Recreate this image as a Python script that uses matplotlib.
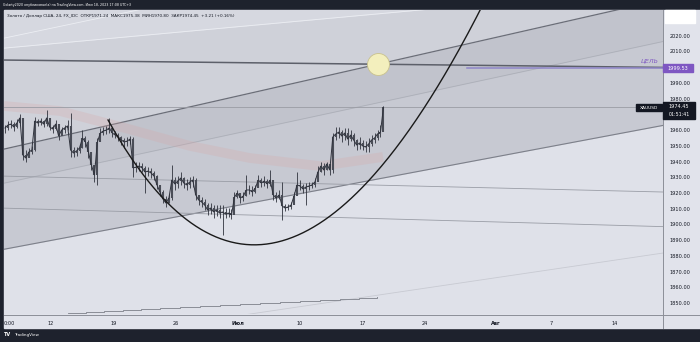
import numpy as np
import matplotlib.pyplot as plt
from matplotlib.patches import Rectangle
from matplotlib.lines import Line2D

W, H = 700, 342

# ось x в днях (12 = 12 июня), ось y - цена
x_ticks = [7.3, 12, 19.05, 25.98, 32.92, 39.85, 46.9, 53.8, 61.8, 68.0, 75.0]
x_labels = ['0:00', '12', '19', '26', 'Июл', '10', '17', '24', 'Авг', '7', '14']
y_ticks = [1850, 1860, 1870, 1880, 1890, 1900, 1910, 1920, 1930, 1940, 1950,
           1960, 1980, 1990, 2010, 2020]

# свечи XAUUSD (по 8 часов), начало
bar_start = 6.855
close = [1961.3, 1963.2, 1963.8, 1961.9, 1964.5, 1967.7, 1944.1, 1942.2, 1946.0, 1947.3,
         1965.7, 1964.5, 1965.7, 1963.8, 1967.7, 1961.9, 1960.7, 1963.8, 1956.2, 1960.0,
         1961.3, 1962.6, 1947.3, 1945.4, 1946.7, 1948.6, 1954.9, 1952.4, 1946.0, 1937.8,
         1931.4, 1952.4, 1958.1, 1959.4, 1960.0, 1961.3, 1958.1, 1956.8, 1955.6, 1953.7,
         1952.4, 1953.0, 1954.3, 1935.9, 1936.5, 1937.1, 1935.9, 1933.3, 1933.9, 1932.7,
         1930.8, 1925.1, 1920.6, 1916.1, 1913.6, 1916.8, 1928.2, 1925.7, 1927.6, 1929.5,
         1926.3, 1925.1, 1927.0, 1928.2, 1918.7, 1915.5, 1914.2, 1912.3, 1909.2, 1910.4,
         1907.9, 1909.2, 1907.2, 1907.9, 1906.6, 1907.2, 1906.0, 1917.4, 1920.0, 1916.8,
         1918.1, 1921.9, 1921.9, 1920.6, 1923.1, 1928.2, 1926.3, 1927.6, 1925.7, 1928.2,
         1918.7, 1916.8, 1918.7, 1911.7, 1910.4, 1911.1, 1912.3, 1918.1, 1925.1, 1924.4,
         1922.5, 1923.8, 1924.4, 1925.1, 1927.0, 1933.3, 1937.1, 1934.6, 1938.4, 1934.6,
         1955.6, 1957.5, 1958.7, 1956.2, 1958.1, 1954.3, 1956.8, 1953.7, 1950.5, 1951.8,
         1949.9, 1949.2, 1951.1, 1953.7, 1954.9, 1957.5, 1958.7, 1974.45]
high = [1963.2, 1965.7, 1966.4, 1965.1, 1967.0, 1970.2, 1967.7, 1947.3, 1948.6, 1949.9,
        1968.3, 1967.0, 1967.7, 1966.4, 1972.7, 1965.7, 1963.2, 1966.4, 1963.2, 1961.9,
        1963.2, 1966.4, 1970.8, 1949.2, 1949.2, 1951.1, 1960.0, 1956.2, 1953.7, 1944.1,
        1937.8, 1954.9, 1961.3, 1961.9, 1962.6, 1967.7, 1960.7, 1959.4, 1958.1, 1956.2,
        1954.9, 1955.6, 1956.2, 1955.6, 1939.7, 1939.7, 1939.0, 1937.1, 1936.5, 1935.9,
        1933.9, 1931.4, 1925.1, 1921.9, 1918.1, 1919.3, 1937.8, 1930.1, 1930.8, 1933.3,
        1930.1, 1928.9, 1930.1, 1930.8, 1929.5, 1918.7, 1917.4, 1916.1, 1913.6, 1913.6,
        1912.3, 1912.3, 1912.3, 1912.3, 1910.4, 1910.4, 1909.8, 1920.6, 1921.9, 1920.0,
        1920.6, 1931.4, 1925.1, 1924.4, 1925.1, 1931.4, 1929.5, 1930.8, 1928.9, 1934.6,
        1928.2, 1920.6, 1921.9, 1927.0, 1913.0, 1913.0, 1914.2, 1920.6, 1933.3, 1928.2,
        1925.7, 1926.3, 1927.0, 1927.0, 1929.5, 1937.1, 1939.7, 1939.0, 1939.7, 1937.8,
        1958.1, 1961.9, 1961.9, 1960.0, 1961.3, 1961.3, 1960.0, 1958.1, 1954.3, 1955.6,
        1953.7, 1953.0, 1954.9, 1956.8, 1958.1, 1960.0, 1963.2, 1975.38]
low = [1958.1, 1960.0, 1961.3, 1959.4, 1961.3, 1963.8, 1941.0, 1939.7, 1942.9, 1944.8,
       1946.7, 1962.6, 1963.2, 1961.9, 1962.6, 1960.0, 1958.1, 1960.0, 1953.7, 1957.5,
       1958.1, 1960.0, 1942.9, 1942.9, 1943.5, 1945.4, 1948.6, 1949.2, 1942.2, 1934.6,
       1927.0, 1925.1, 1956.2, 1956.8, 1957.5, 1958.1, 1955.6, 1954.9, 1953.0, 1950.5,
       1948.6, 1949.9, 1951.1, 1930.1, 1933.3, 1933.9, 1933.3, 1920.0, 1930.8, 1929.5,
       1928.2, 1922.5, 1918.1, 1913.6, 1911.1, 1913.6, 1915.5, 1921.9, 1923.1, 1925.1,
       1923.1, 1921.9, 1923.1, 1923.8, 1915.5, 1912.3, 1911.1, 1909.2, 1906.0, 1906.6,
       1904.1, 1905.3, 1904.1, 1893.2, 1904.1, 1904.7, 1903.4, 1907.9, 1916.8, 1913.6,
       1914.9, 1918.1, 1919.3, 1918.1, 1920.0, 1924.4, 1923.8, 1924.4, 1923.1, 1924.4,
       1915.5, 1914.2, 1916.1, 1902.8, 1908.5, 1909.2, 1909.8, 1913.6, 1920.0, 1921.9,
       1920.0, 1912.3, 1921.9, 1923.1, 1923.8, 1928.2, 1933.3, 1931.4, 1934.6, 1931.4,
       1932.7, 1953.7, 1954.9, 1952.4, 1953.7, 1950.5, 1953.0, 1949.9, 1947.3, 1947.9,
       1947.3, 1946.0, 1946.0, 1949.9, 1951.8, 1953.7, 1955.6, 1961.3]

# скользящая средняя (розовая полоса)
ma_x = [6.74, 13.01, 20.28, 27.55, 34.26, 42.09, 49.14]
ma_y = [1975.3, 1972.1, 1961.3, 1949.9, 1942.2, 1937.1, 1942.9]

# линии (две точки каждая)
line_a = [(6.295, 1947.31), (73.41, 2033.93)]
line_b = [(6.295, 1883.71), (80.456, 1962.95)]
line_c = [(6.295, 1925.69), (80.456, 2016.31)]
line_d = [(6.295, 1930.77), (80.456, 1920.60)]
line_e = [(6.295, 1910.42), (80.456, 1898.59)]
line_f = [(34.26, 1843.0), (80.456, 1881.8)]
line_h = [(6.295, 2004.55), (80.456, 1999.84)]
line_u1 = [(6.295, 2017.9), (21.73, 2036.34)]
line_u2 = [(6.295, 2011.86), (53.28, 2036.34)]

# ступенчатая линия внизу
step_x = [11.89, 13.9, 15.9, 17.9, 20.0, 22.1, 24.2, 26.4, 28.7, 30.9, 33.1, 35.4,
          37.6, 39.8, 42.1, 44.3, 46.4, 48.5]
step_y = [1843.0, 1843.7, 1844.3, 1844.9, 1845.5, 1846.1, 1846.8, 1847.4, 1848.1, 1848.7,
          1849.4, 1850.0, 1850.6, 1851.3, 1851.9, 1852.6, 1853.2, 1853.8]

# кривая "чашка" (квадратичная кривая Безье)
cup_pts = [(18.38, 1966.4), (37.61, 1769.2), (62.22, 2061.8)]

target_price = 1999.53
target_start = 58.53
last_price = 1974.45
circle_pt = (48.58, 2002.0)

XMIN, XMAX = 6.743, 80.456
YMIN, YMAX = 1843.03, 2036.34


def fx(px):
    return px / W


def fy(py):
    return 1 - py / H


def line_at(ln, x):
    (x1, y1), (x2, y2) = ln
    return y1 + (y2 - y1) * (np.asarray(x) - x1) / (x2 - x1)


fig = plt.figure(figsize=(7, 3.42), dpi=100, facecolor='#1e222d')
fig.patches.append(Rectangle((fx(4), fy(328)), 696 / W, 318 / H, transform=fig.transFigure,
                             color='#e1e3eb', zorder=-5))

ax = fig.add_axes([fx(4), fy(314), 659 / W, 304 / H])
ax.set_zorder(1)
ax.set_facecolor('#dfe1e9')
ax.set_xlim(XMIN, XMAX)
ax.set_ylim(YMIN, YMAX)
for s in ax.spines.values():
    s.set_visible(False)

xs = np.array([XMIN - 2, XMAX + 2])
# заливки каналов
ax.fill_between(xs, line_at(line_b, xs), line_at(line_a, xs), color='#c7c9d2', lw=0, zorder=1)
ax.fill_between(xs, line_at(line_c, xs), line_at(line_a, xs), color='#c1c3cc', lw=0, zorder=1)
ax.fill_between(xs, line_at(line_a, xs), line_at(line_u2, xs), color='#cfd1d9', lw=0, zorder=1)
ax.fill_between(xs, line_at(line_u2, xs), YMAX + 50, color='#d6d8e0', lw=0, zorder=1)
ax.fill_between(xs, line_at(line_e, xs), line_at(line_b, xs),
                where=line_at(line_b, xs) > line_at(line_e, xs), color='#d3d5dd', lw=0, zorder=1)

for ln, c, w in [(line_a, '#6b6e78', 0.9), (line_b, '#7d808a', 0.8), (line_c, '#acafb8', 0.6),
                 (line_d, '#9a9da6', 0.6), (line_e, '#9a9da6', 0.6), (line_f, '#c8cad2', 0.6),
                 (line_u1, '#eceef3', 0.6), (line_u2, '#eceef3', 0.6)]:
    ax.plot(xs, line_at(ln, xs), color=c, lw=w, zorder=2)

ax.plot(ma_x, ma_y, color='#d8a6a6', lw=7, alpha=0.25, solid_capstyle='butt', zorder=3)
ax.step(step_x, step_y, where='post', color='#8a8d96', lw=0.7, zorder=3)

ax.axhline(last_price, color='#9a9ca4', lw=0.6, zorder=3)
ax.plot(xs, line_at(line_h, xs), color='#5d606a', lw=1.1, zorder=4)
ax.plot([target_start, XMAX + 2], [target_price, target_price], color='#8f86c9', lw=1.1, zorder=4)

bx = bar_start + np.arange(len(close)) / 3
opn = [close[0]] + close[:-1]
ax.vlines(bx, low, high, color='#30333d', lw=0.6, zorder=5)
ax.vlines(bx, opn, close, color='#4a4d57', lw=1.5, zorder=5)
ax.plot(bx, close, color='#30333d', lw=0.7, zorder=5)

t = np.linspace(0, 1, 300)
p0, p1, p2 = [np.array(p) for p in cup_pts]
curve = np.outer((1 - t) ** 2, p0) + np.outer(2 * t * (1 - t), p1) + np.outer(t ** 2, p2)
ax.plot(curve[:, 0], curve[:, 1], color='#1a1a1a', lw=1.0, zorder=6)

ax.scatter([circle_pt[0]], [circle_pt[1]], s=250, facecolor='#f3efbd', edgecolor='#c9c28e',
           lw=0.6, zorder=7)

ax.set_xticks(x_ticks, x_labels)
ax.set_yticks(y_ticks, [f'{v:.2f}' for v in y_ticks])
ax.yaxis.tick_right()
ax.tick_params(axis='both', length=0, labelsize=3.6, colors='#131722')
ax.tick_params(axis='x', pad=5)
ax.tick_params(axis='y', pad=4.5)
for lb in ax.get_xticklabels():
    if lb.get_text() in ('Июл', 'Авг'):
        lb.set_fontweight('bold')

# рамки шкал
fig.lines.append(Line2D([fx(663), fx(663)], [fy(10), fy(328)], transform=fig.transFigure,
                        color='#8c8f98', lw=0.7, zorder=3))
fig.lines.append(Line2D([fx(4), fx(700)], [fy(314.5), fy(314.5)], transform=fig.transFigure,
                        color='#8c8f98', lw=0.7, zorder=3))

# метки справа
fig.patches.append(Rectangle((fx(665), fy(23)), 30 / W, 13 / H, transform=fig.transFigure,
                             color='white', zorder=5))
fig.patches.append(Rectangle((fx(663), fy(72)), 30 / W, 8 / H, transform=fig.transFigure,
                             color='#7e57c2', zorder=5))
fig.text(fx(678), fy(68), f'{target_price:.2f}', color='white', fontsize=3.6,
         ha='center', va='center', zorder=6)
fig.patches.append(Rectangle((fx(663), fy(119)), 32 / W, 17 / H, transform=fig.transFigure,
                             color='#131722', zorder=5))
fig.text(fx(679), fy(106.5), f'{last_price:.2f}', color='white', fontsize=3.6,
         ha='center', va='center', zorder=6)
fig.text(fx(679), fy(114.5), '01:51:41', color='white', fontsize=3.4,
         ha='center', va='center', zorder=6)
fig.patches.append(Rectangle((fx(636), fy(111)), 26 / W, 7 / H, transform=fig.transFigure,
                             color='#131722', zorder=5))
fig.text(fx(649), fy(107.5), 'XAUUSD', color='white', fontsize=3.2,
         ha='center', va='center', zorder=6)
fig.text(fx(659), fy(61), 'ЦЕЛЬ', color='#7e57c2', fontsize=4.5, style='italic',
         ha='right', va='center', zorder=6)

# заголовки
fig.text(fx(3), fy(5), 'Golarty2020 опубликовал(а) на TradingView.com, Июл 18, 2023 17:08 UTC+3',
         color='white', fontsize=2.3, ha='left', va='center')
fig.text(fx(7), fy(15.5), 'Золото / Доллар США, 24, FX_IDC  ОТКР1971.24  МАКС1975.38  '
         'МИН1970.80  ЗАКР1974.45  +3.21 (+0.16%)', color='#131722', fontsize=3.0,
         ha='left', va='center', zorder=10)
fig.text(fx(4), fy(335), 'TV', color='white', fontsize=3.5, fontweight='bold',
         ha='left', va='center')
fig.text(fx(14), fy(335), 'TradingView', color='white', fontsize=3.0, ha='left', va='center')

fig.savefig('out.png', dpi=100, facecolor=fig.get_facecolor())
